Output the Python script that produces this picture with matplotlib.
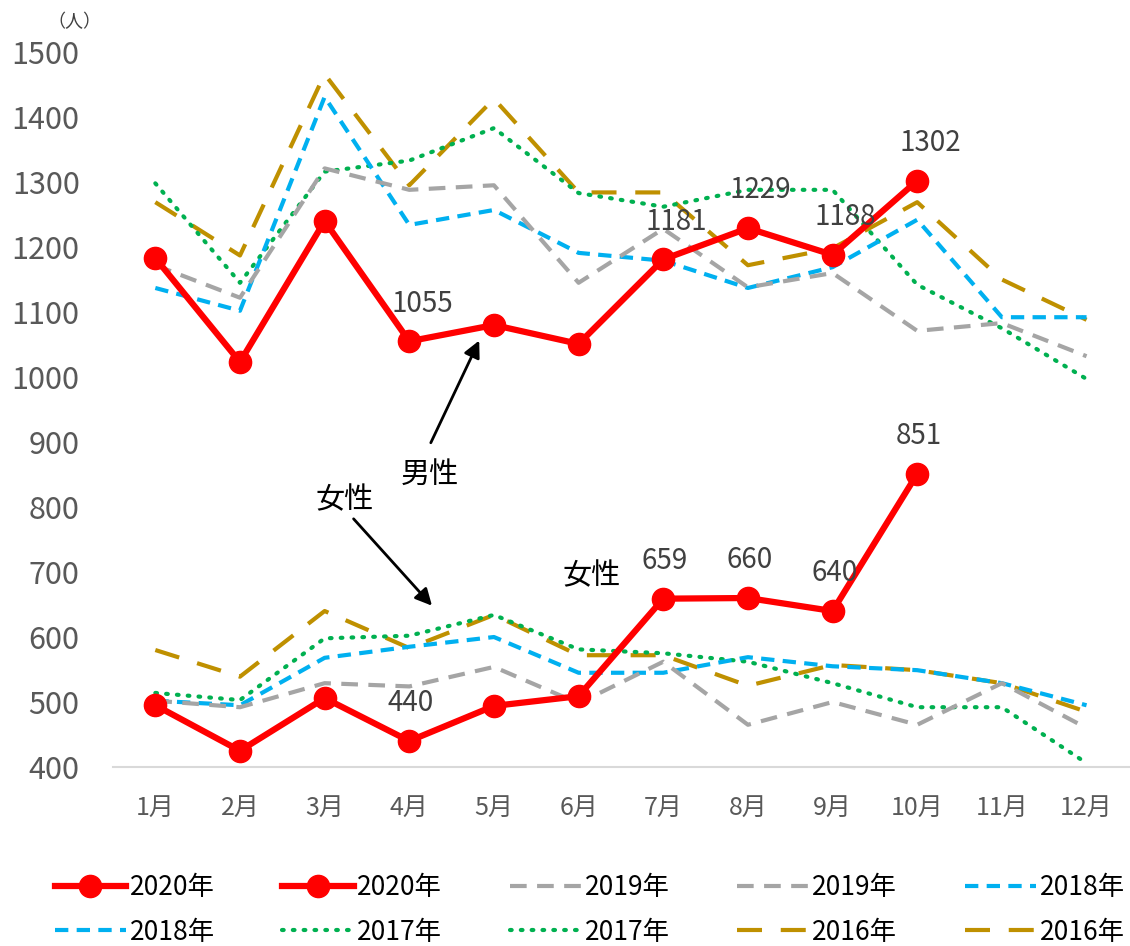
import numpy as np
import matplotlib
matplotlib.use("Agg")
import matplotlib.pyplot as plt

plt.rcParams['font.family'] = ['Noto Sans CJK JP', 'DejaVu Sans']

# ---- data ----
months = ['1月', '2月', '3月', '4月', '5月', '6月', '7月', '8月', '9月', '10月', '11月', '12月']

male_2020 = [1183, 1023, 1240, 1055, 1080, 1051, 1181, 1229, 1188, 1302]
female_2020 = [495, 425, 506, 440, 494, 509, 659, 660, 640, 851]

male_2019 = [1172, 1122, 1321, 1288, 1295, 1145, 1228, 1138, 1160, 1071, 1083, 1032]
female_2019 = [502, 492, 529, 524, 554, 498, 562, 465, 500, 465, 529, 460]

male_2018 = [1137, 1102, 1431, 1234, 1257, 1191, 1179, 1137, 1169, 1242, 1092, 1092]
female_2018 = [502, 495, 568, 585, 600, 545, 545, 569, 555, 549, 529, 495]

male_2017 = [1298, 1145, 1316, 1333, 1383, 1283, 1262, 1288, 1288, 1142, 1075, 997]
female_2017 = [514, 503, 598, 602, 634, 581, 575, 562, 529, 492, 492, 406]

male_2016 = [1269, 1187, 1466, 1295, 1428, 1284, 1284, 1172, 1198, 1269, 1150, 1088]
female_2016 = [580, 539, 640, 583, 634, 572, 572, 525, 557, 549, 529, 485]

# which 2020 points get a value label
label_idx_male = [3, 6, 7, 8, 9]
label_idx_female = [3, 6, 7, 8, 9]

# ---- figure ----
fig = plt.figure(figsize=(11.3, 9.46), dpi=100)
ax = fig.add_axes([0.1, 0.1892, 0.899, 0.7558])

x = np.arange(len(months))
x20 = np.arange(len(male_2020))

red = '#FF0000'
gray = '#A5A5A5'
blue = '#00B0F0'
green = '#00B050'
gold = '#BF9000'

h = []
# 2016
h += ax.plot(x, male_2016, color=gold, lw=3, dashes=(6, 4.5), label='2016年')
h += ax.plot(x, female_2016, color=gold, lw=3, dashes=(6, 4.5), label='2016年')
# 2017
h += ax.plot(x, male_2017, color=green, lw=3, linestyle=(0, (0.4, 2.2)),
             dash_capstyle='round', label='2017年')
h += ax.plot(x, female_2017, color=green, lw=3, linestyle=(0, (0.4, 2.2)),
             dash_capstyle='round', label='2017年')
# 2018
h += ax.plot(x, male_2018, color=blue, lw=3, dashes=(3.2, 2), label='2018年')
h += ax.plot(x, female_2018, color=blue, lw=3, dashes=(3.2, 2), label='2018年')
# 2019
h += ax.plot(x, male_2019, color=gray, lw=3, dashes=(4, 2.5), label='2019年')
h += ax.plot(x, female_2019, color=gray, lw=3, dashes=(4, 2.5), label='2019年')
# 2020
h += ax.plot(x20, male_2020, color=red, lw=4.5, marker='o', ms=16, label='2020年')
h += ax.plot(x20, female_2020, color=red, lw=4.5, marker='o', ms=16, label='2020年')

# value labels
for i in label_idx_male:
    ax.text(x20[i] + 0.15, male_2020[i] + 35, str(male_2020[i]), ha='center', va='bottom',
            fontsize=20, color='#404040')
for i in label_idx_female:
    ax.text(x20[i] + 0.02, female_2020[i] + 35, str(female_2020[i]), ha='center', va='bottom',
            fontsize=20, color='#404040')

# annotations
ax.annotate('', xy=(3.84, 1060), xytext=(3.24, 895),
            arrowprops=dict(arrowstyle='-|>', color='black', lw=2, mutation_scale=25))
ax.text(3.24, 850, '男性', ha='center', va='center', fontsize=21, color='black')
ax.annotate('', xy=(3.29, 645), xytext=(2.32, 785),
            arrowprops=dict(arrowstyle='-|>', color='black', lw=2, mutation_scale=25))
ax.text(2.24, 811, '女性', ha='center', va='center', fontsize=21, color='black')
ax.text(5.15, 694, '女性', ha='center', va='center', fontsize=21, color='black')

fig.text(0.066, 0.977, '（人）', ha='center', va='center', fontsize=13, color='#404040')

# axes styling
ax.set_xlim(-0.5, 11.5)
ax.set_ylim(400, 1500)
ax.set_yticks(np.arange(400, 1501, 100))
ax.set_xticks(x)
ax.set_xticklabels(months)
for s in ['top', 'right', 'left']:
    ax.spines[s].set_visible(False)
ax.spines['bottom'].set_color('#D9D9D9')
ax.spines['bottom'].set_linewidth(1.5)
ax.tick_params(axis='y', length=0, pad=24, labelsize=22, labelcolor='#595959')
ax.tick_params(axis='x', length=0, pad=20, labelsize=18, labelcolor='#595959')

# legend: row-major order 2020,2020,2019,2019,2018 / 2018,2017,2017,2016,2016
order = [8, 9, 6, 7, 4, 5, 2, 3, 0, 1]
hs = [h[i] for i in order]
cm = [hs[0], hs[5], hs[1], hs[6], hs[2], hs[7], hs[3], hs[8], hs[4], hs[9]]
leg = fig.legend(handles=cm, labels=[l.get_label() for l in cm], ncol=5,
                 loc='center', bbox_to_anchor=(0.522, 0.038), frameon=False,
                 fontsize=19, handlelength=2.7, handletextpad=0.15,
                 columnspacing=2.55, labelspacing=0.65, labelcolor='#000000')

fig.savefig('out.png', dpi=100)
